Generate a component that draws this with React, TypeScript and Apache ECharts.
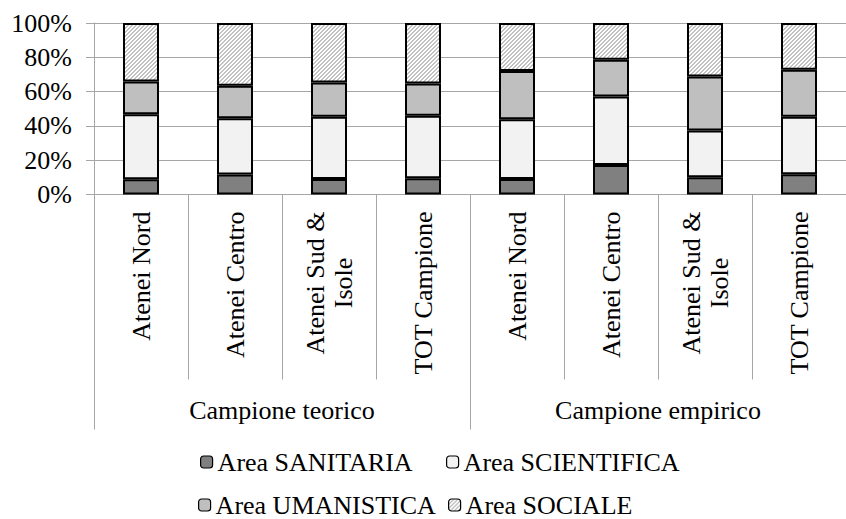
import React, { useEffect, useRef } from "react";
import * as echarts from "echarts";

const categories = [
  "Atenei Nord",
  "Atenei Centro",
  "Atenei Sud &\nIsole",
  "TOT Campione",
  "Atenei Nord",
  "Atenei Centro",
  "Atenei Sud &\nIsole",
  "TOT Campione",
];
const groups = ["Campione teorico", "Campione empirico"];
const yTicks = [0, 20, 40, 60, 80, 100];

const sanitaria = [8.9, 11.6, 9.1, 9.5, 9.1, 17.2, 10.0, 11.8];
const scientifica = [37.9, 32.9, 36.3, 36.4, 34.8, 39.9, 27.3, 33.6];
const umanistica = [19.1, 18.9, 19.9, 18.8, 28.1, 21.5, 31.5, 27.3];
const sociale = [34.1, 36.6, 34.7, 35.3, 28.0, 21.4, 31.2, 27.3];

const seriesNames = ["Area SANITARIA", "Area SCIENTIFICA", "Area UMANISTICA", "Area SOCIALE"];

const FONT = "Liberation Serif, Times New Roman, serif";
const GRID = "#a6a6a6";

function makeHatch(): HTMLCanvasElement {
  const c = document.createElement("canvas");
  c.width = 4;
  c.height = 4;
  const ctx = c.getContext("2d")!;
  ctx.fillStyle = "#ffffff";
  ctx.fillRect(0, 0, 4, 4);
  ctx.fillStyle = "#c2c2c2";
  for (let y = 0; y < 4; y++) {
    for (let x = 0; x < 4; x++) {
      if ((x + y) % 4 < 2) ctx.fillRect(x, y, 1, 1);
    }
  }
  return c;
}

export default function App() {
  const ref = useRef<HTMLDivElement>(null);
  useEffect(() => {
    if (!ref.current) return;
    const chart = echarts.init(ref.current, undefined, { renderer: "svg" });
    const hatch = { image: makeHatch(), repeat: "repeat" };
    const textBase = { fontFamily: FONT, fontSize: 26, color: "#000" };
    const barBase = (name: string, data: number[], color: any) => ({
      name,
      type: "bar",
      stack: "total",
      data,
      barWidth: 36,
      itemStyle: { color, borderColor: "#000", borderWidth: 2 },
      emphasis: { disabled: true },
    });
    const legendAt = (name: string, left: number, top: number) => ({
      data: [name],
      left,
      top,
      padding: 0,
      itemWidth: 12,
      itemHeight: 12,
      itemStyle: { borderWidth: 1.2 },
      textStyle: { ...textBase },
      selectedMode: false,
    });
    chart.setOption({
      animation: false,
      backgroundColor: "#fff",
      grid: { left: 94, right: -8, top: 23, bottom: 324.5, containLabel: false },
      legend: [
        legendAt(seriesNames[0], 200, 449),
        legendAt(seriesNames[1], 446, 449),
        legendAt(seriesNames[2], 198, 492),
        legendAt(seriesNames[3], 448, 492),
      ],
      xAxis: [
        {
          type: "category",
          data: categories,
          position: "bottom",
          axisLine: { show: true, lineStyle: { color: GRID, width: 1 } },
          axisTick: { show: true, length: 185, interval: 0, lineStyle: { color: GRID, width: 1 } },
          axisLabel: {
            interval: 0,
            rotate: 90,
            margin: 17,
            ...textBase,
            formatter: (v: string) =>
              v
                .split("\n")
                .map((s, i) => (i === 0 ? `{a|${s}}` : `{c|${s}}`))
                .join("\n"),
            rich: {
              a: { ...textBase, lineHeight: 28 },
              c: { ...textBase, lineHeight: 28, align: "center" },
            },
          },
        },
        {
          type: "category",
          data: groups,
          position: "bottom",
          axisLine: { show: false },
          axisTick: { show: true, length: 235, lineStyle: { color: GRID, width: 1 } },
          axisLabel: { interval: 0, margin: 203, ...textBase },
        },
      ],
      yAxis: {
        type: "value",
        min: 0,
        max: 100,
        interval: 20,
        axisLine: { show: true, lineStyle: { color: GRID, width: 1 } },
        axisTick: { show: true, length: 8, lineStyle: { color: GRID, width: 1 } },
        splitLine: { show: true, lineStyle: { color: GRID, width: 1 } },
        axisLabel: {
          margin: 22,
          ...textBase,
          formatter: (v: number) => (yTicks.includes(v) ? `${v}%` : ""),
        },
      },
      series: [
        barBase(seriesNames[0], sanitaria, "#808080"),
        barBase(seriesNames[1], scientifica, "#f2f2f2"),
        barBase(seriesNames[2], umanistica, "#bfbfbf"),
        barBase(seriesNames[3], sociale, hatch),
      ],
    });
    return () => chart.dispose();
  }, []);
  return (
    <div
      ref={ref}
      style={{ position: "absolute", left: 0, top: 0, width: 846, height: 519 }}
    />
  );
}
